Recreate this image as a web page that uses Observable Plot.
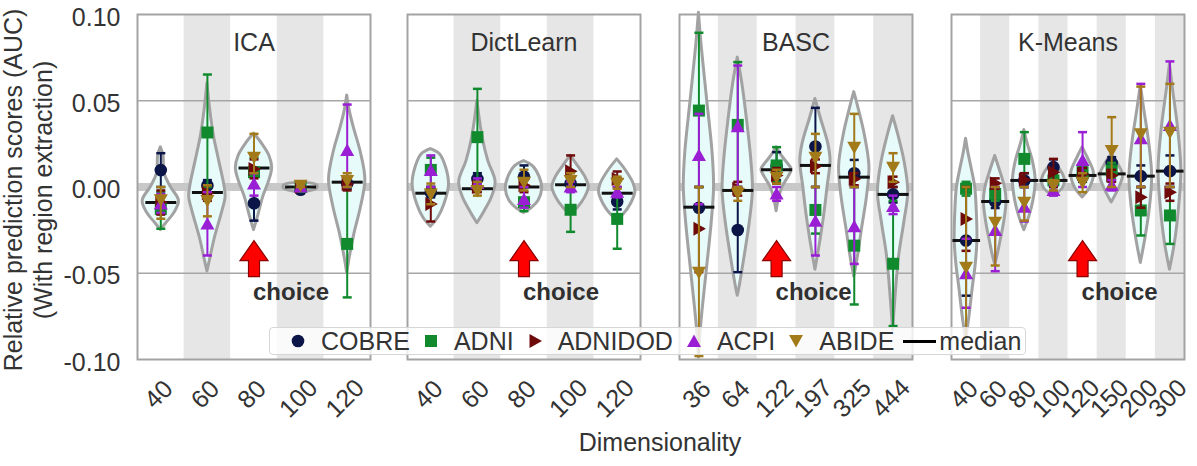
<!DOCTYPE html>
<html>
<head>
<meta charset="utf-8">
<script src="https://cdn.jsdelivr.net/npm/d3@7"></script>
<script src="https://cdn.jsdelivr.net/npm/@observablehq/plot@0.6"></script>
<style>
  body { margin: 0; background: #fff; font-family: "Liberation Sans", Arial, sans-serif; }
  #chart { position: relative; width: 1197px; height: 466px; overflow: hidden; background: #fff; }
  #chart > svg { position: absolute; top: 0; }
  .legend { position: absolute; left: 269px; top: 327px; height: 28px; box-sizing: border-box;
    display: flex; align-items: center; padding: 0 4px 0 21px; background: rgba(255,255,255,0.8);
    border: 1px solid #d6d6d6; border-radius: 4px; font-size: 25px; color: #333; z-index: 5; white-space: nowrap; }
  .legend .mk { width: 14px; height: 14px; margin-right: 16px; display: block; flex: none; }
  .legend .lbl { margin-right: 14px; line-height: 26px; }
  .legend .mline { width: 33px; height: 3px; background: #000; margin: 0 3px 0 -5px; flex: none; }
  .xtitle { position: absolute; left: 560px; width: 200px; top: 428px; text-align: center; font-size: 25px; line-height: 28px; color: #333; }
</style>
</head>
<body>
<div id="chart"></div>
<script>
// ---------------- data ----------------
const methods = ["ICA", "DictLearn", "BASC", "K-Means"];
const icaDims = ["40", "60", "80", "100", "120"];
const dictLearnDims = ["40", "60", "80", "100", "120"];
const bascDims = ["36", "64", "122", "197", "325", "444"];
const kmeansDims = ["40", "60", "80", "100", "120", "150", "200", "300"];
const choiceDims = ["80", "80", "122", "120"];
const yTicks = [-0.1, -0.05, 0, 0.05, 0.1];
const datasets = ["COBRE", "ADNI", "ADNIDOD", "ACPI", "ABIDE"];
const yLabel = "Relative prediction scores (AUC)\n(With region extraction)";
const xLabel = "Dimensionality";
const choiceLabel = "choice";
const choiceArrowLevel = -0.0415;
const choiceLabelLevel = -0.0608;

// [value, low, high] for every dimensionality, ICA | DictLearn | BASC | K-Means
const cobreScores = [
  [0.0098, 0.0, 0.0196], [0.0009, -0.004, 0.004], [-0.0094, -0.0195, 0.0], [-0.0016, -0.003, 0.0], [0.002, -0.001, 0.005],
  [-0.003, -0.006, 0.0], [0.0047, 0.0, 0.008], [0.006, 0.0, 0.0125], [0.002, -0.002, 0.006], [-0.0084, -0.013, -0.004],
  [-0.012, -0.024, 0.0], [-0.0249, -0.0494, 0.0], [0.012, 0.004, 0.0202], [0.0235, 0.0, 0.0459], [0.008, 0.0, 0.0157], [-0.0043, -0.009, 0.0],
  [-0.031, -0.063, 0.0], [-0.0084, -0.0122, -0.0046], [0.0038, 0.0, 0.008], [0.0115, 0.008, 0.016], [0.006, 0.003, 0.009], [0.014, 0.0115, 0.0173], [0.0063, 0.0, 0.0125], [0.0092, 0.0, 0.0183]
];
const adniScores = [
  [-0.0127, -0.0242, -0.003], [0.0316, 0.0, 0.0652], [0.0086, 0.0, 0.017], [0.0, -0.001, 0.001], [-0.033, -0.064, 0.0],
  [0.0099, 0.0, 0.017], [0.0289, 0.0, 0.0569], [-0.0088, -0.014, 0.0], [-0.0132, -0.026, 0.0], [-0.0185, -0.0358, -0.005],
  [0.0443, 0.0, 0.0894], [0.036, 0.0, 0.0724], [0.0125, 0.003, 0.0231], [-0.0133, -0.027, 0.0], [-0.034, -0.0681, 0.0], [-0.0445, -0.0806, -0.008],
  [-0.001, -0.005, 0.003], [-0.004, -0.008, 0.0], [0.0163, 0.0, 0.0318], [0.0038, 0.0, 0.007], [0.0086, 0.004, 0.012], [0.0096, 0.005, 0.014], [-0.0136, -0.0281, 0.0], [-0.0165, -0.033, 0.0]
];
const adnidodScores = [
  [-0.0088, -0.016, -0.002], [-0.0036, -0.008, 0.001], [0.0105, 0.005, 0.016], [0.0, -0.001, 0.001], [0.0018, -0.002, 0.005],
  [-0.0098, -0.02, 0.0], [0.0, -0.003, 0.003], [0.001, -0.003, 0.005], [0.0092, 0.0, 0.0183], [0.0047, 0.0, 0.009],
  [-0.0242, -0.0494, 0.0], [-0.001, -0.005, 0.003], [0.0067, 0.002, 0.011], [0.012, 0.008, 0.016], [0.0047, 0.001, 0.008], [0.0028, 0.0, 0.006],
  [-0.0185, -0.037, 0.0], [0.0022, -0.001, 0.005], [0.0042, 0.0, 0.008], [0.0086, 0.0, 0.0163], [0.0076, 0.004, 0.011], [0.0067, 0.003, 0.01], [-0.0059, -0.012, 0.0], [-0.003, -0.008, 0.002]
];
const acpiScores = [
  [-0.0098, -0.015, -0.004], [-0.0214, -0.0397, -0.003], [0.0018, -0.005, 0.008], [0.0, -0.001, 0.001], [0.0212, 0.0, 0.0478],
  [0.0096, 0.0, 0.0183], [0.002, -0.001, 0.005], [-0.0072, -0.012, 0.0], [0.0, -0.003, 0.003], [-0.003, -0.006, 0.0],
  [0.0183, -0.01, 0.0424], [0.035, 0.0, 0.0704], [-0.004, -0.008, 0.0], [-0.0198, -0.0397, 0.0], [-0.023, -0.0446, 0.0], [-0.0113, -0.0157, -0.005],
  [-0.0503, -0.07, -0.03], [-0.0252, -0.0488, 0.0], [-0.0117, -0.02, 0.0], [-0.002, -0.005, 0.001], [0.0154, 0.0, 0.0318], [0.001, -0.002, 0.004], [0.0279, 0.0, 0.0598], [0.0357, 0.0, 0.0728]
];
const abideScores = [
  [-0.0074, -0.0184, 0.0], [-0.0078, -0.017, 0.001], [0.0173, 0.008, 0.0308], [0.001, 0.0, 0.002], [0.0038, 0.0, 0.008],
  [-0.004, -0.01, 0.002], [-0.002, -0.005, 0.003], [0.0028, -0.002, 0.01], [0.0038, 0.0, 0.008], [0.0022, -0.001, 0.006],
  [-0.0494, -0.098, 0.0], [-0.0036, -0.008, 0.0], [0.0057, 0.002, 0.01], [0.0173, 0.0, 0.0308], [0.0231, 0.0, 0.0424], [0.0115, 0.003, 0.0196],
  [-0.0465, -0.09, 0.0], [-0.0204, -0.0455, 0.0], [-0.0088, -0.0195, 0.0], [0.001, -0.002, 0.004], [0.0028, -0.003, 0.008], [0.0212, 0.0, 0.0405], [0.0308, 0.0, 0.0582], [0.0318, 0.0, 0.0598]
];
const medians = [
  -0.009, -0.0032, 0.011, 0.0, 0.0028,
  -0.0036, -0.001, 0.0, 0.0013, -0.0036,
  -0.0117, -0.002, 0.01, 0.0125, 0.0057, -0.0043,
  -0.031, -0.0084, 0.0038, 0.0038, 0.0067, 0.0076, 0.0063, 0.0092
];
// violin outlines: [score, relative density (0..1)] from top to bottom
const violinProfiles = [
  [[0.023,0],[0.018,0.15],[0.008,0.2],[0.0,0.55],[-0.008,1],[-0.015,0.75],[-0.021,0.3],[-0.025,0]],
  [[0.06,0],[0.045,0.15],[0.03,0.35],[0.015,0.65],[0.0,0.95],[-0.006,1],[-0.015,0.8],[-0.03,0.4],[-0.042,0.15],[-0.049,0]],
  [[0.031,0],[0.025,0.45],[0.018,0.85],[0.011,1],[0.004,0.85],[-0.006,0.5],[-0.016,0.25],[-0.025,0]],
  [[0.0025,0],[0.001,0.9],[-0.001,0.9],[-0.003,0]],
  [[0.053,0],[0.045,0.12],[0.035,0.35],[0.02,0.75],[0.004,1],[-0.012,0.75],[-0.027,0.4],[-0.042,0.12],[-0.05,0]],

  [[0.022,0],[0.019,0.5],[0.011,0.85],[0.001,1],[-0.01,0.75],[-0.018,0.4],[-0.023,0]],
  [[0.05,0],[0.04,0.12],[0.028,0.3],[0.015,0.6],[0.003,1],[-0.006,0.8],[-0.014,0.4],[-0.021,0]],
  [[0.015,0],[0.012,0.5],[0.006,0.85],[-0.001,1],[-0.008,0.8],[-0.012,0.45],[-0.015,0]],
  [[0.018,0],[0.013,0.35],[0.006,0.8],[0.0,1],[-0.006,0.8],[-0.012,0.4],[-0.016,0]],
  [[0.016,0],[0.01,0.45],[0.002,0.9],[-0.003,1],[-0.01,0.75],[-0.016,0.35],[-0.019,0]],

  [[0.101,0],[0.08,0.2],[0.05,0.55],[0.02,0.9],[0.0,1],[-0.02,0.85],[-0.05,0.5],[-0.08,0.15],[-0.099,0]],
  [[0.075,0],[0.06,0.3],[0.036,0.65],[0.015,0.9],[-0.002,1],[-0.02,0.8],[-0.046,0.35],[-0.058,0.12],[-0.063,0]],
  [[0.023,0],[0.018,0.35],[0.013,0.8],[0.01,1],[0.006,0.8],[0.0,0.4],[-0.007,0.15],[-0.014,0]],
  [[0.051,0],[0.04,0.35],[0.025,0.85],[0.015,1],[0.0,0.8],[-0.015,0.6],[-0.03,0.35],[-0.042,0.12],[-0.048,0]],
  [[0.055,0],[0.045,0.3],[0.03,0.7],[0.012,1],[-0.005,0.85],[-0.025,0.5],[-0.04,0.25],[-0.052,0]],
  [[0.041,0],[0.03,0.35],[0.015,0.75],[-0.003,1],[-0.02,0.75],[-0.04,0.4],[-0.065,0.15],[-0.083,0]],

  [[0.028,0],[0.02,0.2],[0.012,0.45],[0.0,0.8],[-0.015,0.95],[-0.031,1],[-0.045,0.85],[-0.058,0.6],[-0.075,0.3],[-0.089,0]],
  [[0.018,0],[0.01,0.4],[0.0,0.85],[-0.008,1],[-0.02,0.8],[-0.032,0.45],[-0.04,0.2],[-0.045,0]],
  [[0.033,0],[0.025,0.3],[0.015,0.75],[0.004,1],[-0.008,0.8],[-0.017,0.45],[-0.025,0]],
  [[0.014,0],[0.01,0.6],[0.004,1],[-0.001,0.8],[-0.005,0]],
  [[0.023,0],[0.017,0.45],[0.008,1],[0.0,0.7],[-0.006,0]],
  [[0.019,0],[0.014,0.5],[0.007,1],[0.0,0.7],[-0.009,0]],
  [[0.059,0],[0.045,0.3],[0.025,0.75],[0.006,1],[-0.012,0.8],[-0.03,0.4],[-0.044,0]],
  [[0.071,0],[0.055,0.3],[0.035,0.7],[0.01,1],[-0.012,0.8],[-0.032,0.45],[-0.048,0]]
];

// ---------------- styles / layout ----------------
const panelDims = [icaDims, dictLearnDims, bascDims, kmeansDims];
const scoreSets = [cobreScores, adniScores, adnidodScores, acpiScores, abideScores];
const colors = ["#0b1547", "#118a2e", "#6e0a0a", "#9a1ed4", "#a27a1a"];
const FONT = "'Liberation Sans', Arial, Helvetica, sans-serif";
const panelLeft = [137, 407, 679, 951];
const panelWidth = 233;
const H = 466, MT = 14, MB = 107, PAD = 20;

const poly = (pts) => ({draw(ctx) { ctx.moveTo(pts[0][0], pts[0][1]); for (const p of pts.slice(1)) ctx.lineTo(p[0], p[1]); ctx.closePath(); }});
const hline = (w) => ({draw(ctx) { ctx.moveTo(-w, 0); ctx.lineTo(w, 0); }});
const squareSym = poly([[-6,-6],[6,-6],[6,6],[-6,6]]);
const triRightSym = poly([[-5.5,-7],[7,0],[-5.5,7]]);
const triUpSym = poly([[0,-7],[7,5.5],[-7,5.5]]);
const triDownSym = poly([[0,7],[7,-5.5],[-7,-5.5]]);
const capSym = hline(4.5);
const arrowSym = poly([[0,-18],[14,2],[5.5,2],[5.5,18],[-5.5,18],[-5.5,2],[-14,2]]);
const markerSymbols = ["circle", squareSym, triRightSym, triUpSym, triDownSym];

const chart = document.getElementById("chart");
let offset = 0;
methods.forEach((method, p) => {
  const dims = panelDims[p];
  const n = dims.length;
  const cats = dims.map((d, i) => ({dim: d, pos: i + 0.5, k: offset + i}));
  const violinRows = cats.flatMap(c => violinProfiles[c.k].map(([v, f]) => ({id: c.k, y: v, x1: c.pos - f * 0.39, x2: c.pos + f * 0.39})));
  const medianRows = cats.map(c => ({pos: c.pos, v: medians[c.k]}));
  const stripes = cats.filter((c, i) => i % 2 === 1);
  const choice = cats.find(c => c.dim === choiceDims[p]);
  const ml = p === 0 ? panelLeft[0] : PAD;
  const medianSym = hline(p === 3 ? 14 : 15.5);

  const marks = [
    Plot.rect(stripes, {x1: c => c.pos - 0.5, x2: c => c.pos + 0.5, y1: () => -0.1, y2: () => 0.1, fill: "#e6e6e6"}),
    Plot.ruleY([-0.05, 0.05], {stroke: "#a6a6a6", strokeWidth: 1.5}),
    Plot.ruleY([0], {stroke: "#c8c8c8", strokeWidth: 8}),
    Plot.areaX(violinRows, {y: "y", x1: "x1", x2: "x2", z: "id", curve: "catmull-rom", fill: "#e8fbfb", stroke: "#a2a2a2", strokeWidth: 3}),
    Plot.dot(medianRows, {x: "pos", y: "v", symbol: medianSym, stroke: "#111", strokeWidth: 3, fill: "none"})
  ];
  datasets.forEach((name, s) => {
    const rows = cats.map(c => { const [v, lo, hi] = scoreSets[s][c.k]; return {pos: c.pos, v, lo, hi}; });
    marks.push(
      Plot.ruleX(rows, {x: "pos", y1: "lo", y2: "hi", stroke: colors[s], strokeWidth: 2}),
      Plot.dot(rows, {x: "pos", y: "lo", symbol: capSym, stroke: colors[s], strokeWidth: 2.5, fill: "none"}),
      Plot.dot(rows, {x: "pos", y: "hi", symbol: capSym, stroke: colors[s], strokeWidth: 2.5, fill: "none"}),
      Plot.dot(rows, {x: "pos", y: "v", symbol: markerSymbols[s], r: 6.3, fill: colors[s], stroke: "none"})
    );
  });
  marks.push(
    Plot.dot([choice], {x: "pos", y: () => choiceArrowLevel, symbol: arrowSym, fill: "#ff0000", stroke: "#8b0000", strokeWidth: 1.2}),
    Plot.text([choice], {x: "pos", y: () => choiceLabelLevel, text: () => choiceLabel, textAnchor: "start", dx: -1, fontSize: 24, fontWeight: "bold", fill: "#303030"}),
    Plot.text([method], {frameAnchor: "top", lineAnchor: "middle", dy: 28, fontSize: 25, fill: "#333"}),
    Plot.frame({stroke: "#a3a3a3", strokeWidth: 2}),
    Plot.text(cats.filter(c => c.dim.length < 3), {x: "pos", text: "dim", frameAnchor: "bottom", lineAnchor: "middle", textAnchor: "middle", rotate: -45, dy: 35, dx: -2, fontSize: 25, fill: "#333"}),
    Plot.text(cats.filter(c => c.dim.length >= 3), {x: "pos", text: "dim", frameAnchor: "bottom", lineAnchor: "middle", textAnchor: "middle", rotate: -45, dy: 39, dx: -2, fontSize: 25, fill: "#333"})
  );
  if (p === 0) {
    marks.push(
      Plot.text(yTicks, {y: d => d, text: d => d.toFixed(2), frameAnchor: "left", textAnchor: "end", dx: -17, dy: 3, fontSize: 25, fill: "#333"}),
      Plot.text([yLabel], {frameAnchor: "left", textAnchor: "middle", lineAnchor: "middle", rotate: -90, dx: -110, dy: 3, fontSize: 25, lineHeight: 1.2, fill: "#333"})
    );
  }

  const svg = Plot.plot({
    width: ml + panelWidth + PAD,
    height: H,
    marginLeft: ml, marginRight: PAD, marginTop: MT, marginBottom: MB,
    x: {domain: [0, n], axis: null},
    y: {domain: [-0.1, 0.1], axis: null},
    style: `background: transparent; overflow: visible; font-family: ${FONT}; color: #333;`,
    marks
  });
  svg.style.left = (panelLeft[p] - ml) + "px";
  svg.style.position = "absolute";
  svg.style.maxWidth = "none";
  chart.appendChild(svg);
  offset += n;
});

// legend
const legendShapes = [
  '<circle cx="7" cy="7" r="6.3"/>',
  '<rect x="1" y="1" width="12" height="12"/>',
  '<path d="M1.5,0L14,7L1.5,14Z"/>',
  '<path d="M7,0.5L14,13L0,13Z"/>',
  '<path d="M7,13.5L14,1L0,1Z"/>'
];
const legend = document.createElement("div");
legend.className = "legend";
datasets.forEach((name, s) => {
  legend.insertAdjacentHTML("beforeend",
    `<svg class="mk" viewBox="0 0 14 14" fill="${colors[s]}">${legendShapes[s]}</svg><span class="lbl">${name}</span>`);
});
legend.insertAdjacentHTML("beforeend", `<span class="mline"></span><span class="lbl" style="margin-right:0">median</span>`);
chart.appendChild(legend);

const xt = document.createElement("div");
xt.className = "xtitle";
xt.textContent = xLabel;
chart.appendChild(xt);
</script>
</body>
</html>
